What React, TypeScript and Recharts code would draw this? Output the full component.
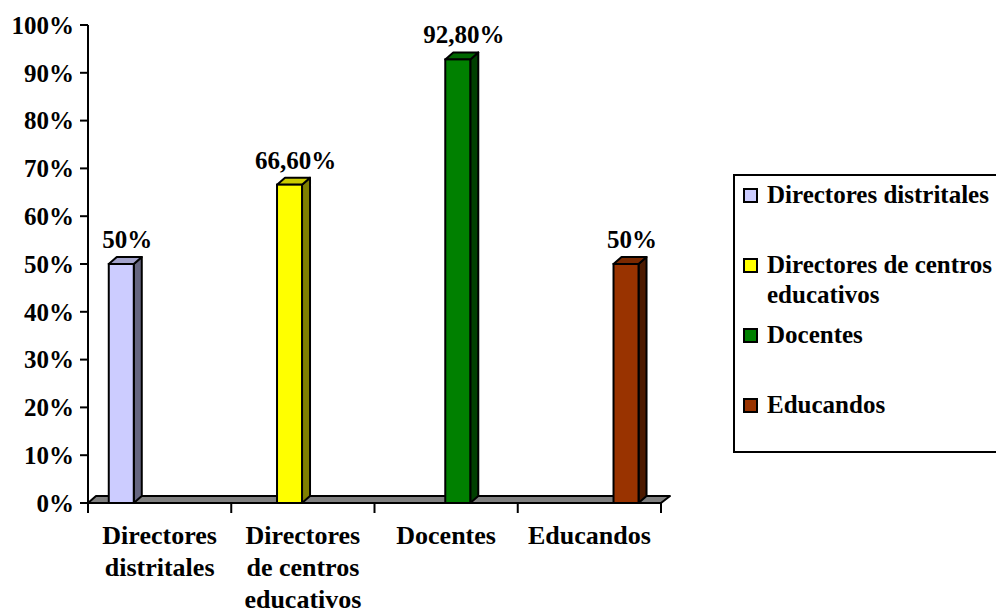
import React from 'react';
import { BarChart, Bar, XAxis, YAxis, ReferenceLine, LabelList } from 'recharts';

const categories = [
  'Directores distritales',
  'Directores de centros educativos',
  'Docentes',
  'Educandos',
];
const seriesKeys = ['distritales', 'centros', 'docentes', 'educandos'];
const seriesValues = [50, 66.6, 92.8, 50];
const seriesColors = ['#CCCCFF', '#FFFF00', '#008000', '#993300'];
const yTicks = [0, 10, 20, 30, 40, 50, 60, 70, 80, 90, 100];

// one row per category, each series only filled in its own category
const data = categories.map((name, i) => ({ name, [seriesKeys[i]]: seriesValues[i] }));

const FONT = '"Liberation Serif", "Times New Roman", serif';
const DEPTH_X = 8;
const DEPTH_Y = 7;

const shade = (hex: string, k: number) => {
  const n = parseInt(hex.slice(1), 16);
  const r = Math.round(((n >> 16) & 255) * k);
  const g = Math.round(((n >> 8) & 255) * k);
  const b = Math.round((n & 255) * k);
  return `rgb(${r},${g},${b})`;
};

const formatPct = (v: number) =>
  Number.isInteger(v) ? `${v}%` : `${v.toFixed(2).replace('.', ',')}%`;

// greedy word wrap measured with a canvas context
let measureCtx: CanvasRenderingContext2D | null = null;
const wrapWords = (text: string, font: string, maxWidth: number) => {
  if (!measureCtx) measureCtx = document.createElement('canvas').getContext('2d');
  const ctx = measureCtx!;
  ctx.font = font;
  const lines: string[] = [];
  let cur = '';
  text.split(' ').forEach((w) => {
    const next = cur ? `${cur} ${w}` : w;
    if (cur && ctx.measureText(next).width > maxWidth) {
      lines.push(cur);
      cur = w;
    } else {
      cur = next;
    }
  });
  if (cur) lines.push(cur);
  return lines;
};

// front face + right side + top, drawn like an extruded column
const Bar3D = (props: any) => {
  const { x, y, width, height, fill } = props;
  if (!height || height <= 0) return null;
  const side = `${x + width},${y} ${x + width + DEPTH_X},${y - DEPTH_Y} ${x + width + DEPTH_X},${y + height - DEPTH_Y} ${x + width},${y + height}`;
  const top = `${x},${y} ${x + DEPTH_X},${y - DEPTH_Y} ${x + width + DEPTH_X},${y - DEPTH_Y} ${x + width},${y}`;
  return (
    <g>
      <polygon points={side} fill={shade(fill, 0.5)} stroke="#000" strokeWidth={2} strokeLinejoin="round" />
      <polygon points={top} fill={shade(fill, 0.8)} stroke="#000" strokeWidth={2} strokeLinejoin="round" />
      <rect x={x} y={y} width={width} height={height} fill={fill} stroke="#000" strokeWidth={2} />
    </g>
  );
};

// grey floor along the zero line
const Floor = (props: any) => {
  const { x1, y1, x2, y2 } = props;
  if (x1 == null) return null;
  const pts = `${x1},${y1} ${x2},${y2} ${x2 + DEPTH_X + 1},${y2 - DEPTH_Y} ${x1 + DEPTH_X},${y1 - DEPTH_Y}`;
  return <polygon points={pts} fill="#808080" stroke="#000" strokeWidth={2} strokeLinejoin="round" />;
};

const renderValueLabel = (props: any) => {
  const vb = props.viewBox ?? props;
  const { value } = props;
  if (value == null || vb.x == null) return null;
  return (
    <text
      x={vb.x + vb.width / 2 + DEPTH_X / 2 + 2}
      y={vb.y - 16}
      textAnchor="middle"
      fill="#000"
      style={{ fontFamily: FONT, fontSize: 25, fontWeight: 'bold' }}
    >
      {formatPct(Number(value))}
    </text>
  );
};

const CategoryTick = (props: any) => {
  const { x, y, payload, index, visibleTicksCount } = props;
  const half = payload.offset || 71.75;
  const last = index === (visibleTicksCount ?? categories.length) - 1;
  const lines = wrapWords(String(payload.value), `bold 26px ${FONT}`, 132);
  return (
    <g>
      <line x1={x - half} y1={y - 8} x2={x - half} y2={y + 2} stroke="#000" strokeWidth={2} />
      {last && <line x1={x + half} y1={y - 8} x2={x + half} y2={y + 2} stroke="#000" strokeWidth={2} />}
      <text
        x={x}
        y={y + 33}
        textAnchor="middle"
        fill="#000"
        style={{ fontFamily: FONT, fontSize: 26, fontWeight: 'bold' }}
      >
        {lines.map((ln, i) => (
          <tspan key={i} x={x} dy={i === 0 ? 0 : 32}>
            {ln}
          </tspan>
        ))}
      </text>
    </g>
  );
};

const App: React.FC = () => {
  return (
    <div
      style={{
        position: 'absolute',
        left: 0,
        top: 0,
        width: 996,
        height: 610,
        overflow: 'hidden',
        background: '#fff',
        fontFamily: FONT,
      }}
    >
      <BarChart
        width={996}
        height={610}
        data={data}
        margin={{ top: 25, right: 335, bottom: 0, left: 0 }}
        barCategoryGap="14.5%"
        barGap={0}
      >
        <ReferenceLine y={0} shape={Floor} zIndex={-100} />
        <XAxis
          dataKey="name"
          height={107}
          axisLine={{ stroke: '#000', strokeWidth: 2 }}
          tickLine={false}
          tickSize={8}
          tickMargin={0}
          interval={0}
          tick={<CategoryTick />}
        />
        <YAxis
          width={88}
          domain={[0, 100]}
          ticks={yTicks}
          interval={0}
          tickFormatter={(v: number) => `${v}%`}
          axisLine={{ stroke: '#000', strokeWidth: 2 }}
          tickLine={{ stroke: '#000', strokeWidth: 2 }}
          tickSize={8}
          tickMargin={6}
          tick={{ fill: '#000', fontFamily: FONT, fontSize: 25, fontWeight: 'bold' }}
        />
        {seriesKeys.map((key, i) => (
          <Bar
            key={key}
            dataKey={key}
            name={categories[i]}
            fill={seriesColors[i]}
            shape={Bar3D}
            isAnimationActive={false}
          >
            <LabelList dataKey={key} content={renderValueLabel} />
          </Bar>
        ))}
      </BarChart>

      <div
        style={{
          position: 'absolute',
          left: 733,
          top: 174,
          width: 300,
          height: 279,
          boxSizing: 'border-box',
          border: '2px solid #000',
          paddingTop: 4,
          background: '#fff',
          fontFamily: FONT,
          fontSize: 25,
          fontWeight: 'bold',
          color: '#000',
        }}
      >
        {categories.map((name, i) => (
          <div key={name} style={{ display: 'flex', alignItems: 'flex-start', height: 70, paddingLeft: 8 }}>
            <span
              style={{
                display: 'inline-block',
                flex: '0 0 auto',
                width: 15,
                height: 15,
                boxSizing: 'border-box',
                border: '2px solid #000',
                background: seriesColors[i],
                marginTop: 8,
                marginRight: 9,
              }}
            />
            <span style={{ lineHeight: '30px', width: 235 }}>{name}</span>
          </div>
        ))}
      </div>
    </div>
  );
};

export default App;
